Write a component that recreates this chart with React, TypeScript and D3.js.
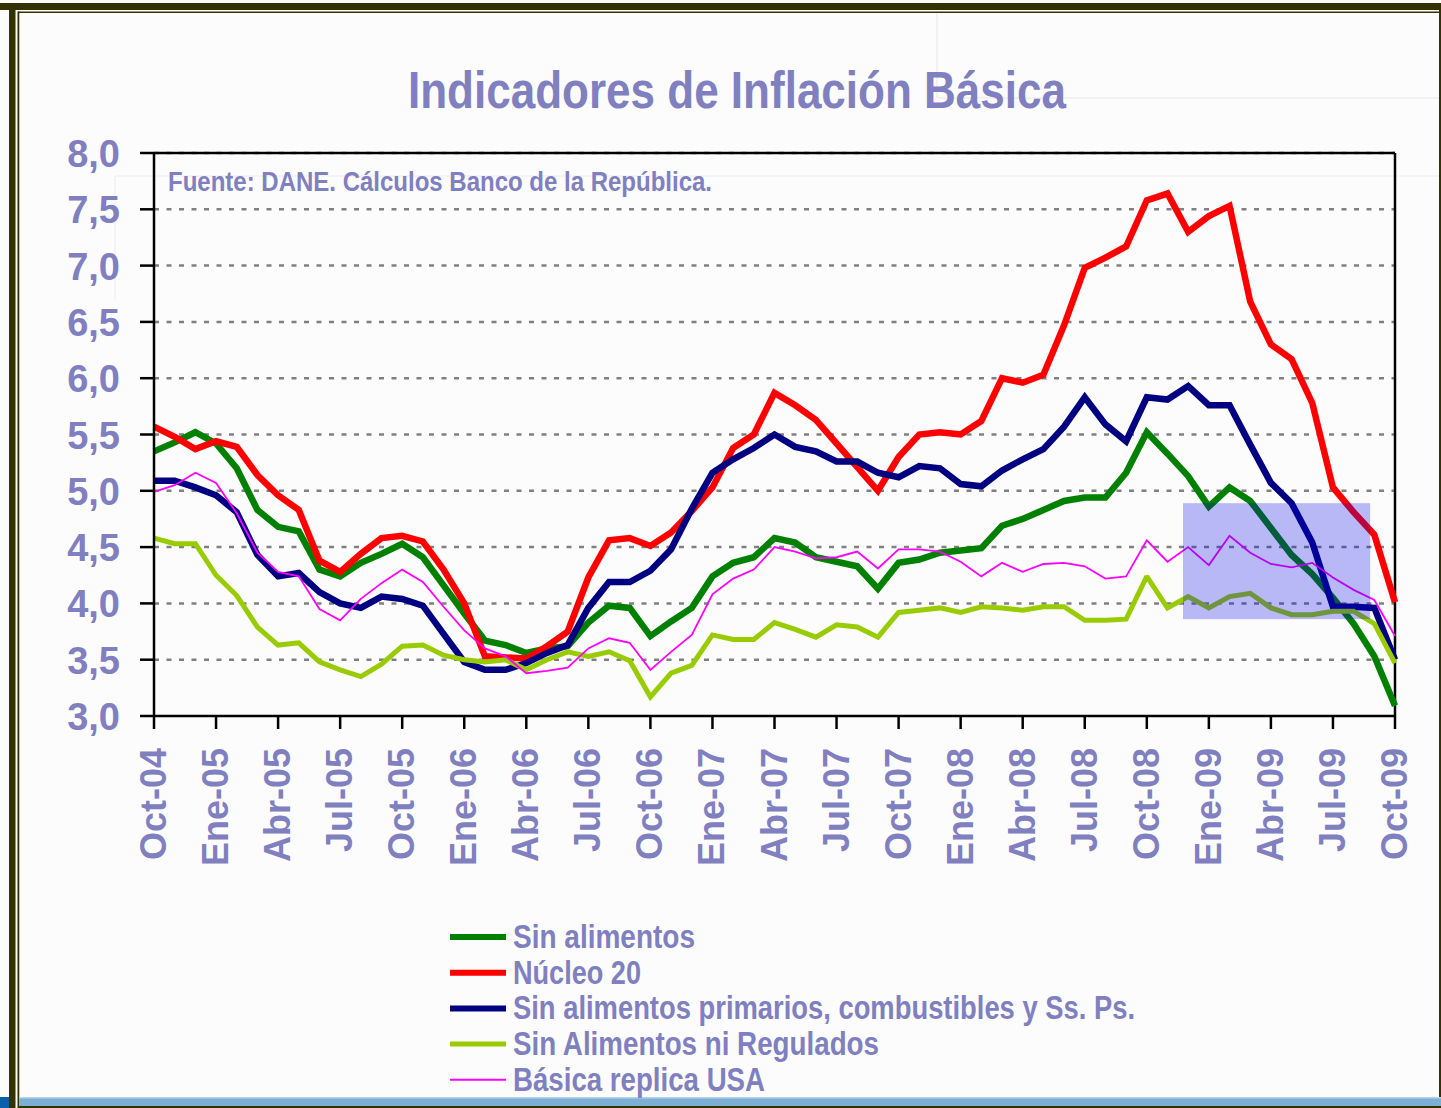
import React from 'react'
import * as d3 from 'd3'

// monthly values, Oct-04 .. Oct-09 (61 points)
const sinAlimentos = [
  5.35, 5.43, 5.52, 5.42, 5.2, 4.83, 4.68, 4.64, 4.3, 4.24, 4.36, 4.44, 4.53, 4.41, 4.16, 3.91, 3.67, 3.63, 3.56,
  3.6, 3.62, 3.83, 3.98, 3.96, 3.71, 3.84, 3.96, 4.24, 4.36, 4.41, 4.58, 4.54, 4.41, 4.37, 4.33, 4.13, 4.36, 4.39, 4.45, 4.47,
  4.49, 4.69, 4.75, 4.83, 4.91, 4.94, 4.94, 5.16, 5.52, 5.33, 5.13, 4.86, 5.03, 4.91, 4.67, 4.43, 4.26, 4.05, 3.82, 3.53, 3.09,
]
const nucleo20 = [
  5.57, 5.48, 5.37, 5.44, 5.39, 5.14, 4.96, 4.83, 4.38, 4.28, 4.44, 4.58, 4.6, 4.55, 4.3, 4.0, 3.53, 3.52, 3.51,
  3.62, 3.75, 4.23, 4.56, 4.58, 4.51, 4.63, 4.82, 5.03, 5.38, 5.5, 5.87, 5.76, 5.63, 5.42, 5.21, 5.0, 5.3, 5.5, 5.52, 5.5,
  5.62, 6.0, 5.96, 6.03, 6.47, 6.98, 7.07, 7.17, 7.58, 7.64, 7.3, 7.44, 7.53, 6.68, 6.3, 6.17, 5.78, 5.03, 4.81, 4.61, 4.01,
]
const sinPrimarios = [
  5.09, 5.09, 5.03, 4.96, 4.81, 4.43, 4.24, 4.27, 4.1, 4.0, 3.96, 4.06, 4.04, 3.98, 3.73, 3.48, 3.41, 3.41, 3.47,
  3.56, 3.63, 3.96, 4.19, 4.19, 4.29, 4.48, 4.84, 5.16, 5.28, 5.38, 5.5, 5.39, 5.35, 5.26, 5.26, 5.16, 5.12, 5.22, 5.2, 5.06,
  5.04, 5.18, 5.28, 5.37, 5.57, 5.83, 5.59, 5.44, 5.83, 5.81, 5.93, 5.76, 5.76, 5.41, 5.07, 4.89, 4.54, 3.97, 3.97, 3.96, 3.5,
]
const sinRegulados = [
  4.58, 4.53, 4.53, 4.25, 4.07, 3.79, 3.63, 3.65, 3.48, 3.41, 3.35, 3.46, 3.62, 3.63, 3.54, 3.5, 3.48, 3.5, 3.41,
  3.5, 3.57, 3.53, 3.57, 3.49, 3.17, 3.38, 3.45, 3.72, 3.68, 3.68, 3.83, 3.77, 3.7, 3.81, 3.79, 3.7, 3.92, 3.94, 3.96, 3.92,
  3.97, 3.96, 3.94, 3.97, 3.97, 3.85, 3.85, 3.86, 4.24, 3.96, 4.06, 3.96, 4.06, 4.09, 3.96, 3.9, 3.9, 3.93, 3.93, 3.82, 3.47,
]
const basicaUSA = [
  4.99, 5.05, 5.16, 5.07, 4.8, 4.45, 4.28, 4.24, 3.95, 3.85, 4.04, 4.18, 4.3, 4.19, 3.97, 3.76, 3.6, 3.53, 3.38,
  3.4, 3.43, 3.6, 3.69, 3.65, 3.41, 3.57, 3.72, 4.08, 4.22, 4.3, 4.5, 4.46, 4.4, 4.41, 4.46, 4.31, 4.48, 4.48, 4.46, 4.37,
  4.24, 4.36, 4.28, 4.35, 4.36, 4.33, 4.22, 4.24, 4.56, 4.37, 4.5, 4.34, 4.6, 4.45, 4.35, 4.32, 4.36, 4.23, 4.12, 4.03, 3.71,
]

// one label every 3 months
const tickLabels = [
  'Oct-04', 'Ene-05', 'Abr-05', 'Jul-05', 'Oct-05', 'Ene-06', 'Abr-06', 'Jul-06', 'Oct-06', 'Ene-07', 'Abr-07',
  'Jul-07', 'Oct-07', 'Ene-08', 'Abr-08', 'Jul-08', 'Oct-08', 'Ene-09', 'Abr-09', 'Jul-09', 'Oct-09',
]
const yTicks = [3, 3.5, 4, 4.5, 5, 5.5, 6, 6.5, 7, 7.5, 8]

const series = [
  { name: 'Sin alimentos', values: sinAlimentos, color: '#008000', width: 6.5, legendW: 6 },
  { name: 'Núcleo 20', values: nucleo20, color: '#ff0000', width: 6.5, legendW: 6 },
  { name: 'Sin alimentos primarios, combustibles y Ss. Ps.', values: sinPrimarios, color: '#000080', width: 6.5, legendW: 6 },
  { name: 'Sin Alimentos ni Regulados', values: sinRegulados, color: '#99cc00', width: 5, legendW: 5 },
  { name: 'Básica replica USA', values: basicaUSA, color: '#ff00ff', width: 1.8, legendW: 2 },
]
const legendWidths = [182, 128, 622, 366, 252]

// highlighted window (month index / value)
const highlight = { x0: 49.75, x1: 58.8, y0: 3.86, y1: 4.89 }

const W = 1441
const H = 1108
const txt = '#8080c0'
const narrow = '"Liberation Sans Narrow", "Arial Narrow", "Liberation Sans", Arial, sans-serif'
const sans = '"Liberation Sans", Arial, sans-serif'

export default function App() {
  const left = 154, right = 1395, top = 153, bottom = 716
  const x = d3.scaleLinear().domain([0, sinAlimentos.length - 1]).range([left, right])
  const y = d3.scaleLinear().domain([3, 8]).range([bottom, top])
  const line = d3.line<number>().x((d, i) => x(i)).y(d => y(d))

  return (
    <svg width={W} height={H} style={{ position: 'absolute', left: 0, top: 0 }}>
      <rect x={0} y={0} width={W} height={H} fill="#fcfcfc" />
      {/* faint slide artifacts */}
      <line x1={937} y1={13} x2={937} y2={98} stroke="#eeeeee" strokeWidth={1.5} />
      <line x1={937} y1={98} x2={W} y2={98} stroke="#eeeeee" strokeWidth={1.5} />
      <line x1={115} y1={176} x2={W} y2={176} stroke="#f2f2f2" strokeWidth={1.5} />
      <line x1={115} y1={176} x2={115} y2={300} stroke="#f2f2f2" strokeWidth={1.5} />

      {/* outer frame */}
      <rect x={0} y={3} width={W} height={7} fill="#333300" />
      <rect x={18} y={11.5} width={W - 18} height={1.5} fill="#333300" />
      <rect x={9} y={3} width={6.5} height={H} fill="#333300" />
      <rect x={17.5} y={11.5} width={1.8} height={H} fill="#333300" />
      <rect x={1439} y={3} width={2} height={H} fill="#333300" />
      <rect x={19} y={1097} width={W - 19} height={9} fill="#7bafd4" />
      <rect x={19} y={1097} width={W - 19} height={1.5} fill="#b8d4ea" />
      <rect x={0} y={1097} width={9} height={11} fill="#0a60aa" />
      <rect x={19} y={1106} width={W - 19} height={2} fill="#333300" />

      <text x={737} y={108} textAnchor="middle" fontFamily={narrow} fontWeight="bold" fontSize={52}
        fill={txt} textLength={658} lengthAdjust="spacingAndGlyphs">Indicadores de Inflación Básica</text>

      {/* grid */}
      {yTicks.slice(1).map(t => (
        <line key={t} x1={left} x2={right} y1={y(t)} y2={y(t)} stroke="#808080" strokeWidth={2.5}
          strokeDasharray="5,7.5" />
      ))}
      <line x1={left} x2={right} y1={top} y2={top} stroke="#000" strokeWidth={2.5} />
      <line x1={right} x2={right} y1={top} y2={bottom} stroke="#000" strokeWidth={2.5} />

      <text x={168} y={191} fontFamily={narrow} fontWeight="bold" fontSize={28} fill={txt}
        textLength={544} lengthAdjust="spacingAndGlyphs">Fuente: DANE. Cálculos Banco de la República.</text>

      {/* series */}
      {series.map(s => (
        <path key={s.name} d={line(s.values) ?? ''} fill="none" stroke={s.color} strokeWidth={s.width}
          strokeLinejoin="miter" strokeMiterlimit={2} />
      ))}

      <rect x={x(highlight.x0)} y={y(highlight.y1)} width={x(highlight.x1) - x(highlight.x0)}
        height={y(highlight.y0) - y(highlight.y1)} fill="#0000e6" fillOpacity={0.27} />

      {/* axes */}
      <line x1={left} x2={left} y1={top} y2={bottom} stroke="#000" strokeWidth={2.5} />
      <line x1={left} x2={right} y1={bottom} y2={bottom} stroke="#000" strokeWidth={2.5} />
      {yTicks.map(t => (
        <g key={t}>
          <line x1={140} x2={left} y1={y(t)} y2={y(t)} stroke="#000" strokeWidth={2.5} />
          <text x={120} y={y(t) + 14} textAnchor="end" fontFamily={sans} fontWeight="bold" fontSize={38}
            fill={txt}>{t.toFixed(1).replace('.', ',')}</text>
        </g>
      ))}
      {tickLabels.map((lab, i) => {
        const px = x(i * 3)
        return (
          <g key={lab}>
            <line x1={px} x2={px} y1={bottom} y2={729} stroke="#000" strokeWidth={2.5} />
            <text transform={`translate(${px + 12},748) rotate(-90)`} textAnchor="end" fontFamily={sans}
              fontWeight="bold" fontSize={36} fill={txt}>{lab}</text>
          </g>
        )
      })}

      {/* legend */}
      {series.map((s, i) => {
        const ly = 937 + i * 35.7
        return (
          <g key={s.name}>
            <line x1={450} x2={506} y1={ly} y2={ly} stroke={s.color} strokeWidth={s.legendW} />
            <text x={513} y={ly + 11} fontFamily={narrow} fontWeight="bold" fontSize={33} fill={txt}
              textLength={legendWidths[i]} lengthAdjust="spacingAndGlyphs">{s.name}</text>
          </g>
        )
      })}
    </svg>
  )
}
